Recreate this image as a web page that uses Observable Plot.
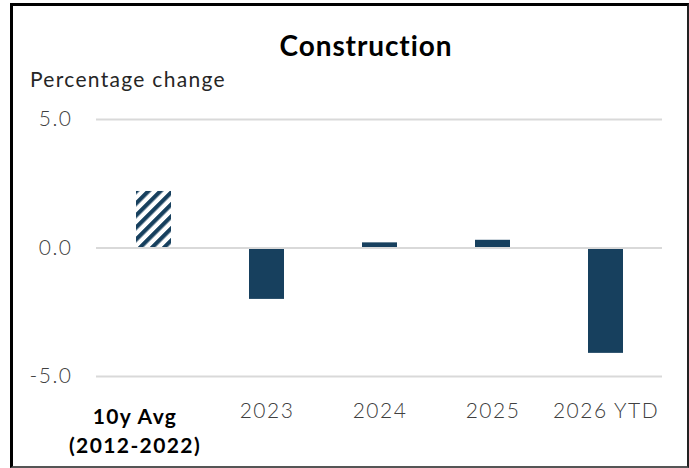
<!DOCTYPE html>
<html>
<head>
<meta charset="utf-8">
<script src="https://cdn.jsdelivr.net/npm/d3@7"></script>
<script src="https://cdn.jsdelivr.net/npm/@observablehq/plot@0.6"></script>
<style>
  html, body { margin: 0; padding: 0; background: #fff; }
  body { width: 689px; height: 468px; position: relative; overflow: hidden; font-family: Lato, "Noto Sans", sans-serif; }
  #frame { position: absolute; left: 10px; top: 3px; width: 679px; height: 465px; box-sizing: border-box;
           border-left: 3px solid #000; border-top: 3px solid #000; border-right: 2px solid #222; border-bottom: 2px solid #555; }
  #title { position: absolute; left: 216px; width: 300px; top: 31px; text-align: center; font-size: 28px; line-height: 28px; font-weight: 700; color: #000; letter-spacing: 0.9px; }
  #subtitle { position: absolute; left: 30px; top: 68px; font-size: 21px; line-height: 21px; font-weight: 400; color: #262626; letter-spacing: 1.3px; }
  #chart { position: absolute; left: 0; top: 0; }
  #chart .spaced, #chart .spaced text { letter-spacing: 1.5px; }
  #chart .spacedb, #chart .spacedb text { letter-spacing: 1.4px; }
</style>
</head>
<body>
<div id="frame"></div>
<div id="title">Construction</div>
<div id="subtitle">Percentage change</div>
<div id="chart"></div>
<script>
const categories = ["10y Avg (2012-2022)", "2023", "2024", "2025", "2026 YTD"];
const tickLabels = ["10y Avg\n(2012-2022)", "2023", "2024", "2025", "2026 YTD"];
const values = [2.2, -2.0, 0.2, 0.3, -4.1];
const yTicks = [-5, 0, 5];

const navy = "#17405e";
const rows = categories.map((c, i) => ({cat: c, label: tickLabels[i], value: values[i], hatched: i === 0}));

const plot = Plot.plot({
  width: 689,
  height: 468,
  marginLeft: 96,
  marginRight: 27,
  marginTop: 119,
  marginBottom: 92,
  style: {fontFamily: "Lato, 'Noto Sans', sans-serif", background: "transparent"},
  x: {domain: categories, padding: 0, axis: null},
  y: {domain: [-5, 5], axis: null},
  marks: [
    Plot.barY(rows.filter(d => !d.hatched), {x: "cat", y: "value", fill: navy, insetLeft: 39, insetRight: 39}),
    Plot.barY(rows.filter(d => d.hatched), {x: "cat", y: "value", fill: "url(#hatch)", insetLeft: 39, insetRight: 39}),
    Plot.ruleY(yTicks, {stroke: "#d9d9d9", strokeWidth: 2}),
    Plot.text(yTicks, {y: d => d, text: d => d.toFixed(1), frameAnchor: "left", textAnchor: "end", dx: -24, fontSize: 21, fill: "#404040", fontWeight: 300, className: "spaced"}),
    Plot.text(rows.filter(d => !d.hatched), {x: "cat", text: "label", frameAnchor: "bottom", lineAnchor: "top", dy: 27, fontSize: 21, fill: "#404040", fontWeight: 300, className: "spaced"}),
    Plot.text(rows.filter(d => d.hatched), {x: "cat", text: "label", frameAnchor: "bottom", lineAnchor: "top", dy: 26, dx: -19, fontSize: 21, lineHeight: 1.42, fill: "#000", fontWeight: 700, className: "spacedb"})
  ]
});

d3.select(plot).insert("defs", ":first-child").html(
  `<pattern id="hatch" patternUnits="userSpaceOnUse" width="8.5" height="8.5" patternTransform="rotate(45)">
     <rect width="8.5" height="8.5" fill="white"/>
     <rect width="4.2" height="8.5" fill="${navy}"/>
   </pattern>`
);
document.getElementById("chart").appendChild(plot);
</script>
</body>
</html>
